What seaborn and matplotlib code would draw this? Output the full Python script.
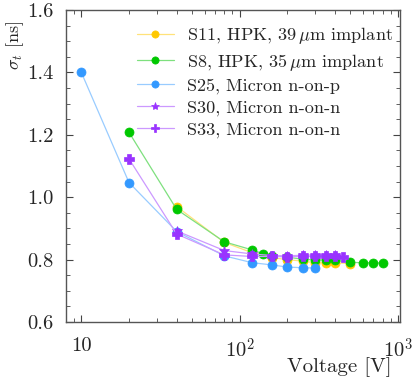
import pandas as pd
import seaborn as sns
import matplotlib.pyplot as plt
from matplotlib.ticker import MultipleLocator

# sigma_t [ns] vs bias voltage [V]
s11_v = [40, 80, 120, 160, 200, 250, 300, 350, 400, 500]
s11_t = [0.970, 0.855, 0.822, 0.806, 0.800, 0.795, 0.790, 0.790, 0.790, 0.787]

s8_v = [20, 40, 80, 120, 140, 160, 200, 250, 300, 350, 400, 500, 600, 700, 800]
s8_t = [1.208, 0.961, 0.857, 0.831, 0.819, 0.813, 0.808, 0.801, 0.799, 0.799, 0.798,
        0.791, 0.790, 0.790, 0.789]

s25_v = [10, 20, 40, 80, 120, 160, 200, 250, 300]
s25_t = [1.400, 1.047, 0.890, 0.812, 0.790, 0.783, 0.776, 0.774, 0.773]

s30_v = [40, 80, 120, 160, 200, 250, 300, 350, 400]
s30_t = [0.892, 0.829, 0.818, 0.813, 0.812, 0.814, 0.815, 0.815, 0.815]

s33_v = [20, 40, 80, 120, 160, 200, 250, 300, 350, 400, 450]
s33_t = [1.123, 0.882, 0.815, 0.810, 0.810, 0.809, 0.810, 0.810, 0.811, 0.810, 0.807]

labels = [r'S11, HPK, 39$\,\mu$m implant', r'S8, HPK, 35$\,\mu$m implant',
          'S25, Micron n-on-p', 'S30, Micron n-on-n', 'S33, Micron n-on-n']

series = [(s11_v, s11_t, '#ffc800', '#ffe27a', 'o', 6.5),
          (s8_v, s8_t, '#00c800', '#7ee07e', 'o', 6.5),
          (s25_v, s25_t, '#3399ff', '#99ccff', 'o', 6.5),
          (s30_v, s30_t, '#9933ff', '#cc99ff', '*', 7.5),
          (s33_v, s33_t, '#9933ff', '#cc99ff', 'P', 7)]

sns.set_style('ticks')
plt.rcParams['font.family'] = ['cmr10', 'DejaVu Serif']
plt.rcParams['mathtext.fontset'] = 'cm'
plt.rcParams['axes.formatter.use_mathtext'] = True

fig = plt.figure(figsize=(4.15, 3.87), dpi=100)
ax = fig.add_axes([0.159, 0.168, 0.805, 0.806])

for (v, t, c, lc, m, ms), lab in zip(series, labels):
    sns.lineplot(x=v, y=t, ax=ax, color=lc, linewidth=0.9, marker=m, markersize=ms,
                 markerfacecolor=c, markeredgecolor=c, markeredgewidth=0.5, label=lab)

ax.set_xscale('log')
ax.set_xlim(8, 1030)
ax.set_ylim(0.6, 1.6)
ax.set_xticks([10, 100, 1000], labels=['10', '$10^2$', '$10^3$'])
ax.yaxis.set_major_locator(MultipleLocator(0.2))
ax.yaxis.set_minor_locator(MultipleLocator(0.05))
ax.yaxis.set_major_formatter(plt.FuncFormatter(lambda y, p: f'{y:.1f}'))
ax.tick_params(which='both', direction='in', top=True, right=True, labelsize=14.8,
               color='#444444')
ax.tick_params(axis='x', which='both', pad=11)
ax.tick_params(axis='y', which='both', pad=9)
ax.tick_params(which='major', length=5, width=0.8)
ax.tick_params(which='minor', length=3, width=0.6)
for s in ax.spines.values():
    s.set_color('#555555')
    s.set_linewidth(1.0)

ax.set_xlabel('Voltage [V]', fontsize=15, ha='right', va='top')
ax.xaxis.set_label_coords(0.976, -0.112)
ax.set_ylabel(r'$\sigma_t$ [ns]', fontsize=13, loc='top')
ax.yaxis.set_label_coords(-0.12, 0.965)

ax.legend(loc='upper right', bbox_to_anchor=(1.0, 0.975), borderaxespad=0,
          frameon=False, fontsize=13.1, handlelength=2.03, labelspacing=0.3,
          markerscale=0.8, handletextpad=0.71)

fig.savefig('out.png', dpi=100)
